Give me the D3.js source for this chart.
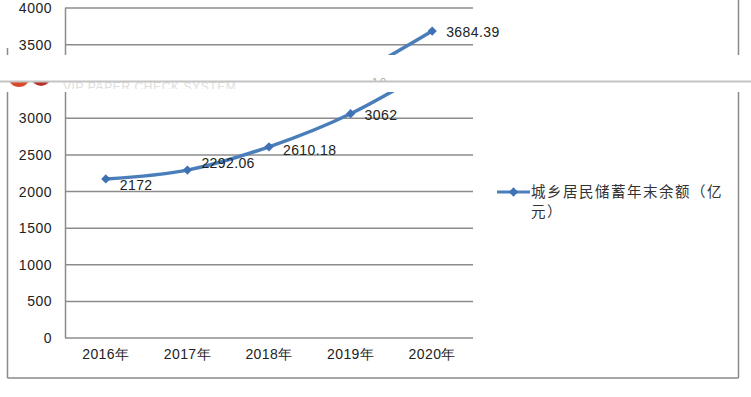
<!DOCTYPE html>
<html><head><meta charset="utf-8">
<script src="https://cdn.jsdelivr.net/npm/d3@7/dist/d3.min.js"></script>
<style>
html,body{margin:0;padding:0;background:#fff;}
svg{display:block;}
</style></head>
<body>
<svg id="c" width="751" height="397"></svg>
<script>
const categories = ["2016年","2017年","2018年","2019年","2020年"];
const values = [2172, 2292.06, 2610.18, 3062, 3684.39];
const valueLabels = ["2172","2292.06","2610.18","3062","3684.39"];
const yTicks = [0,500,1000,1500,2000,2500,3000,3500,4000];
const legendLines = ["城乡居民储蓄年末余额（亿","元）"];
const labelDy = [6,-7,3,1,1];

const W = 751, H = 397;
const svg = d3.select("#c");
svg.append("rect").attr("width",W).attr("height",H).attr("fill","#fff");

const x = d3.scaleBand().domain(categories).range([65,473]).padding(0);
const y = d3.scaleLinear().domain([0,4000]).range([338,45]);
const CUT = 92, SHIFT = 37;

const defs = svg.append("defs");
defs.append("clipPath").attr("id","cu").append("rect").attr("x",0).attr("y",-100).attr("width",W).attr("height",100+CUT);
defs.append("clipPath").attr("id","cl").append("rect").attr("x",0).attr("y",CUT).attr("width",W).attr("height",H);

const gU = svg.append("g").attr("transform",`translate(0,${-SHIFT})`).attr("clip-path","url(#cu)");
const gL = svg.append("g").attr("clip-path","url(#cl)");
const pick = yy => yy < CUT ? gU : gL;

const grid = "#8c8c8c", blue = "#4a7ebb", mark = "#3f72b5";
const numFont = "'Liberation Sans', Arial, sans-serif";

[gU,gL].forEach(g=>{
  g.append("line").attr("x1",7.5).attr("x2",7.5).attr("y1",85).attr("y2",378).attr("stroke","#8a8a8a").attr("stroke-width",1.5);
  g.append("line").attr("x1",738.5).attr("x2",738.5).attr("y1",0).attr("y2",378).attr("stroke","#8a8a8a").attr("stroke-width",1.5);
  g.append("line").attr("x1",7.5).attr("x2",738.5).attr("y1",378).attr("y2",378).attr("stroke","#8a8a8a").attr("stroke-width",1.5);
  g.append("line").attr("x1",65.5).attr("x2",65.5).attr("y1",y(4000)).attr("y2",y(0)).attr("stroke",grid).attr("stroke-width",1.5);
});

yTicks.forEach(t=>{
  const g = pick(y(t));
  g.append("line").attr("x1",65).attr("x2",473).attr("y1",y(t)).attr("y2",y(t))
    .attr("stroke",grid).attr("stroke-width",1.5);
  g.append("text").attr("x",52).attr("y",y(t)).attr("dy","0.36em").attr("text-anchor","end")
    .attr("font-family",numFont).attr("font-size",14).attr("letter-spacing","0.5px").attr("fill","#222").text(t);
});

categories.forEach(c=>{
  gL.append("text").attr("x",x(c)+x.bandwidth()/2).attr("y",359).attr("text-anchor","middle")
    .attr("font-family",numFont).attr("font-size",14).attr("letter-spacing","0.4px").attr("fill","#222").text(c);
});

const line = d3.line().x((d,i)=>x(categories[i])+x.bandwidth()/2).y(d=>y(d)).curve(d3.curveCardinal.tension(0));
[gU,gL].forEach(g=>{
  g.append("path").attr("d",line(values)).attr("fill","none").attr("stroke",blue).attr("stroke-width",3.5);
});

const sym = d3.symbol().type(d3.symbolDiamond2).size(55);
values.forEach((v,i)=>{
  const px = x(categories[i])+x.bandwidth()/2, py = y(v);
  const g = pick(py);
  g.append("path").attr("d",sym()).attr("transform",`translate(${px},${py})`).attr("fill",mark);
  g.append("text").attr("x",px+14).attr("y",py+labelDy[i]).attr("dy","0.36em")
    .attr("font-family",numFont).attr("font-size",14).attr("letter-spacing","0.4px").attr("fill","#222").text(valueLabels[i]);
});

gL.append("line").attr("x1",497).attr("x2",530).attr("y1",192).attr("y2",192).attr("stroke",blue).attr("stroke-width",3);
gL.append("path").attr("d",sym()).attr("transform","translate(513.5,192)").attr("fill",mark);
legendLines.forEach((s,i)=>{
  gL.append("text").attr("x",531).attr("y",192+i*20).attr("dy","0.36em")
    .attr("font-family","'Noto Sans CJK SC', sans-serif").attr("font-size",14.5).attr("letter-spacing","1.5px")
    .attr("fill","#333").text(s);
});

// page header band (watermark strip)
const band = svg.append("g");
band.append("rect").attr("x",0).attr("y",55).attr("width",W).attr("height",CUT-55).attr("fill","#fff");
defs.append("clipPath").attr("id","cb").append("rect").attr("x",0).attr("y",82).attr("width",W).attr("height",7);
const wm = band.append("g").attr("clip-path","url(#cb)");
wm.append("circle").attr("cx",19).attr("cy",76).attr("r",11).attr("fill","#d94a2c");
wm.append("circle").attr("cx",41).attr("cy",76).attr("r",10).attr("fill","#b8302b");
wm.append("text").attr("x",63).attr("y",91).attr("font-family",numFont).attr("font-size",12)
  .attr("letter-spacing","0.6px").attr("fill","#dedede").text("VIP PAPER CHECK SYSTEM");
defs.append("clipPath").attr("id","cp").append("rect").attr("x",0).attr("y",76).attr("width",W).attr("height",5);
band.append("g").attr("clip-path","url(#cp)").append("text").attr("x",372).attr("y",86)
  .attr("font-family",numFont).attr("font-size",11).attr("letter-spacing","2px").attr("fill","#aaa").text("10");
band.append("line").attr("x1",0).attr("x2",W).attr("y1",81.5).attr("y2",81.5).attr("stroke","#c4c4c4").attr("stroke-width",2);
</script>
</body></html>
